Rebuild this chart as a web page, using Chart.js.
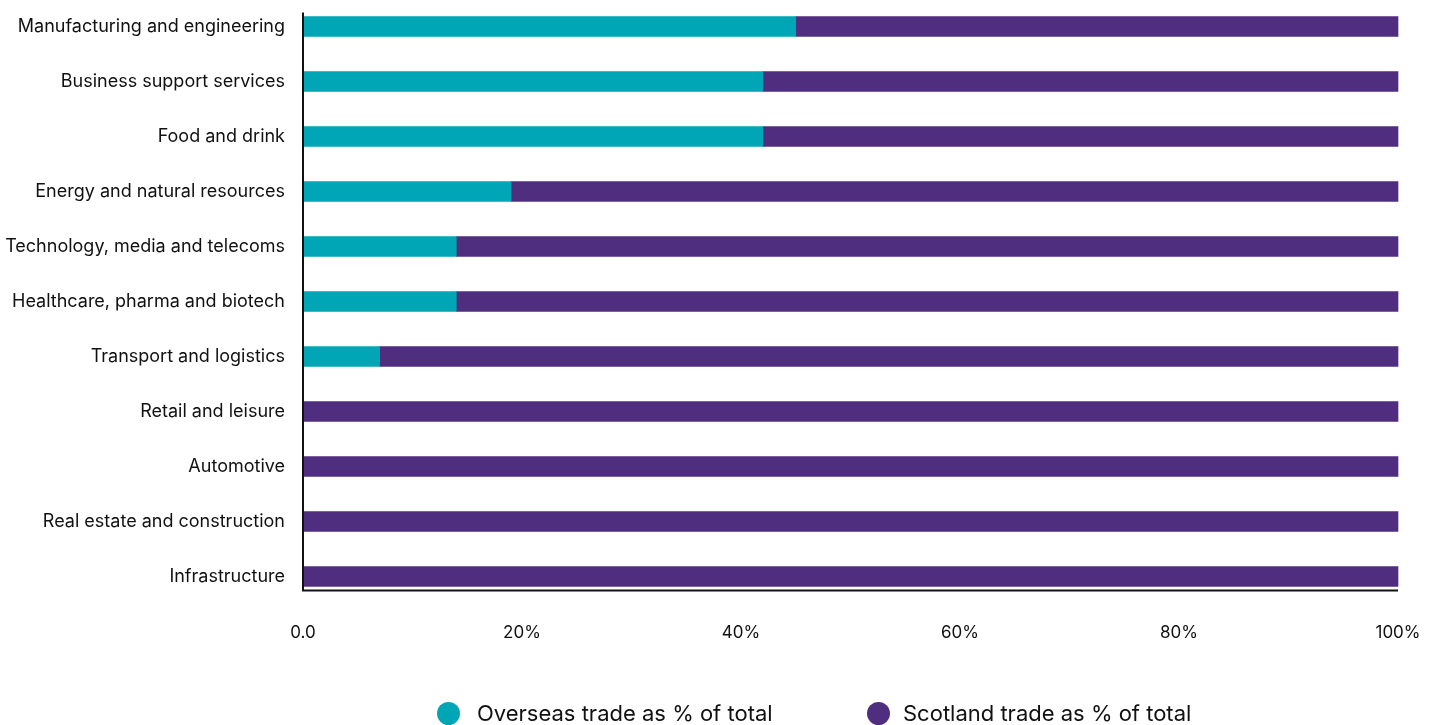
<!DOCTYPE html>
<html>
<head>
<meta charset="utf-8">
<script src="https://cdn.jsdelivr.net/npm/chart.js@4"></script>
<style>
  html, body { margin: 0; padding: 0; background: #fff; overflow: hidden; }
  .wrap { position: relative; width: 1432px; height: 725px; overflow: hidden; }
  #tradeChart { position: absolute; left: 0; top: -1px; }
  .legend {
    position: absolute; left: 0; top: 699px; width: 1432px;
    font-family: Inter, sans-serif; font-size: 22px; color: #111;
  }
  .legend span { position: absolute; top: 0; white-space: nowrap; line-height: 28px; }
  .legend i { position: absolute; top: 3px; width: 23px; height: 23px; border-radius: 50%; }
</style>
</head>
<body>
<div class="wrap">
  <canvas id="tradeChart" width="1432" height="725"></canvas>
  <div class="legend" id="legend"></div>
</div>
<script>
// sectors, top to bottom
const sectors = [
    'Manufacturing and engineering',
    'Business support services',
    'Food and drink',
    'Energy and natural resources',
    'Technology, media and telecoms',
    'Healthcare, pharma and biotech',
    'Transport and logistics',
    'Retail and leisure',
    'Automotive',
    'Real estate and construction',
    'Infrastructure'
];
const overseasShare = [45, 42, 42, 19, 14, 14, 7, 0, 0, 0, 0];
const scotlandShare = [55, 58, 58, 81, 86, 86, 93, 100, 100, 100, 100];
const xTickLabels = ['0.0', '20%', '40%', '60%', '80%', '100%'];

const seriesNames = ['Overseas trade as % of total', 'Scotland trade as % of total'];
const TEAL = '#00a6b5';
const PURPLE = '#4f2d7f';
const FONT = 'Inter, sans-serif';

// axis lines hug the bars instead of the full category band
const axisLines = {
    id: 'axisLines',
    afterDatasetsDraw(chart) {
        const bars = chart.getDatasetMeta(1).data;
        const first = bars[0], last = bars[bars.length - 1];
        const x = chart.scales.x;
        const top = first.y - first.height / 2 - 4;
        const bottom = last.y + last.height / 2 + 4;
        const ctx = chart.ctx;
        ctx.save();
        ctx.strokeStyle = '#111';
        ctx.lineWidth = 2;
        ctx.beginPath();
        ctx.moveTo(x.getPixelForValue(0), top);
        ctx.lineTo(x.getPixelForValue(0), bottom);
        ctx.lineTo(x.getPixelForValue(100), bottom);
        ctx.stroke();
        ctx.restore();
    }
};

new Chart(document.getElementById('tradeChart'), {
    type: 'bar',
    data: {
        labels: sectors,
        datasets: [
            { label: seriesNames[0], data: overseasShare, backgroundColor: TEAL, barThickness: 20, clip: false },
            { label: seriesNames[1], data: scotlandShare, backgroundColor: PURPLE, barThickness: 20, clip: false }
        ]
    },
    options: {
        indexAxis: 'y',
        responsive: false,
        animation: false,
        layout: { padding: { top: 0, right: 34, bottom: 80, left: 0 } },
        scales: {
            x: {
                stacked: true,
                min: 0,
                max: 100,
                grid: { display: false, drawTicks: false },
                border: { display: false },
                ticks: {
                    stepSize: 20,
                    padding: 19,
                    color: '#111',
                    font: { family: FONT, size: 17 },
                    callback: (v, i) => xTickLabels[i]
                },
                afterFit: s => { s.height = 40; s.paddingLeft = 0; s.paddingRight = 0; }
            },
            y: {
                stacked: true,
                grid: { display: false, drawTicks: false },
                border: { display: false },
                ticks: {
                    padding: 18,
                    color: '#111',
                    font: { family: FONT, size: 18 }
                },
                afterFit: s => { s.width = 303; s.paddingTop = 0; s.paddingBottom = 0; }
            }
        },
        plugins: {
            legend: { display: false },
            tooltip: { enabled: false }
        }
    },
    plugins: [axisLines]
});

// legend below the chart
const legend = document.getElementById('legend');
const legendItems = [
    { text: seriesNames[0], color: TEAL, dot: 437, label: 477 },
    { text: seriesNames[1], color: PURPLE, dot: 867, label: 903 }
];
legendItems.forEach(item => {
    const dot = document.createElement('i');
    dot.style.left = item.dot + 'px';
    dot.style.background = item.color;
    const label = document.createElement('span');
    label.style.left = item.label + 'px';
    label.textContent = item.text;
    legend.appendChild(dot);
    legend.appendChild(label);
});
</script>
</body>
</html>
